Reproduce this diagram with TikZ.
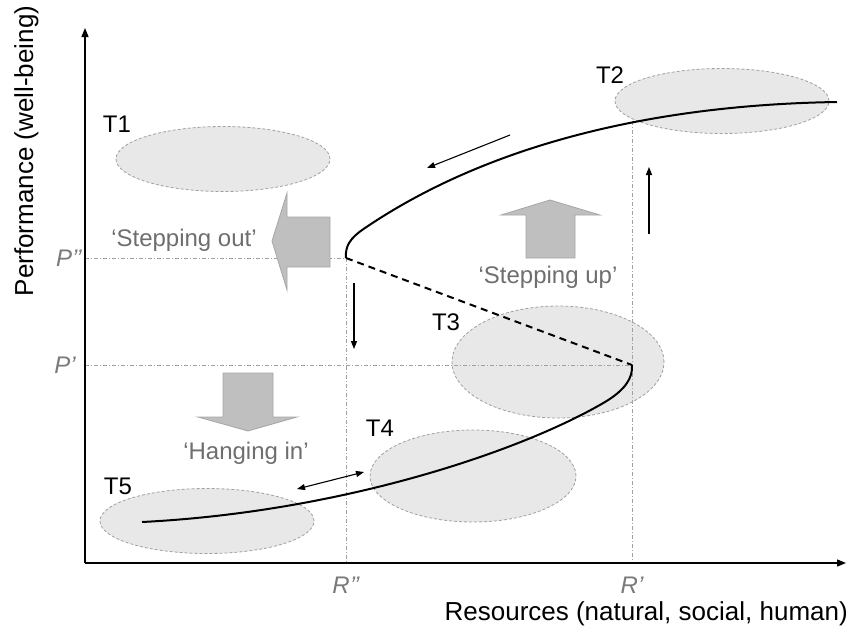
\documentclass[tikz,border=0pt]{standalone}
\usepackage{fontspec}
\setmainfont{Liberation Sans}
\usetikzlibrary{shapes.geometric,arrows.meta}
\definecolor{ellfill}{HTML}{E8E8E8}
\definecolor{elldraw}{HTML}{A0A0A0}
\definecolor{blockfill}{HTML}{BFBFBF}
\definecolor{blockdraw}{HTML}{A6A6A6}
\definecolor{labgray}{HTML}{6E6E6E}
\definecolor{vgray}{HTML}{7A7A7A}
\definecolor{guidegray}{HTML}{A0A0A0}
\begin{document}
\begin{tikzpicture}[x=1pt,y=-1pt,
  every node/.style={font=\fontsize{24}{28}\selectfont, inner sep=0pt},
  tstate/.style={ellipse, draw=elldraw, fill=ellfill, line width=0.8pt,
    dash pattern=on 3pt off 2pt, inner sep=0pt},
  tlabel/.style={text=black},
  glabel/.style={text=labgray},
  vlabel/.style={text=vgray, font=\fontsize{24}{28}\selectfont\itshape},
  axislabel/.style={text=black, font=\fontsize{26}{30}\selectfont},
  axis/.style={line width=1.3pt, -{Triangle[length=9pt,width=7pt]}},
  guide/.style={draw=guidegray, line width=0.7pt, dash pattern=on 4pt off 2pt on 1pt off 2pt},
  block/.style={fill=blockfill, draw=blockdraw, line width=0.8pt},
  curve/.style={line width=2pt},
  thinarrow/.style={line width=1.1pt, -{Triangle[length=8pt,width=6pt]}},
  dblarrow/.style={line width=1.1pt, {Triangle[length=8pt,width=6pt]}-{Triangle[length=8pt,width=6pt]}}
]
\useasboundingbox (0,0) rectangle (852,630);

% state ellipses
\node[tstate, minimum width=214pt, minimum height=65pt] (e1) at (223,159) {};
\node[tstate, minimum width=214pt, minimum height=65pt] (e2) at (722,101) {};
\node[tstate, minimum width=212pt, minimum height=112pt] (e3) at (558,362) {};
\node[tstate, minimum width=206pt, minimum height=92pt] (e4) at (473,476) {};
\node[tstate, minimum width=214pt, minimum height=65pt] (e5) at (207,521) {};

\node[tlabel] (t1) at (117,124) {T1};
\node[tlabel] (t2) at (610,75) {T2};
\node[tlabel] (t3) at (446,322) {T3};
\node[tlabel] (t4) at (380,428) {T4};
\node[tlabel] (t5) at (118,486) {T5};

% key coordinates
\coordinate (O) at (85,563);
\coordinate (ytip) at (85,28);
\coordinate (xtip) at (846,563);
\coordinate (Pdd) at (85,258);
\coordinate (A) at (346,258);
\coordinate (Pd) at (85,365);
\coordinate (B) at (632,365);
\coordinate (Rdd) at (346,563);
\coordinate (Rd) at (632,563);
\coordinate (Rdtop) at (632,121);
\coordinate (C) at (837,102);
\coordinate (E) at (142,522);

% guide lines
\draw[guide] (Pdd) -- (A);
\draw[guide] (Pd) -- (B);
\draw[guide] (A) -- (Rdd);
\draw[guide] (Rdtop) -- (Rd);

% axes
\draw[axis] (O) -- (ytip);
\draw[axis] (O) -- (xtip);

% axis value labels
\node[vlabel, anchor=east] (lPdd) at (82,258) {P’’};
\node[vlabel, anchor=east] (lPd) at (76,365) {P’};
\node[vlabel] (lRdd) at (346,585) {R’’};
\node[vlabel] (lRd) at (632,585) {R’};

% axis titles
\node[axislabel, anchor=base east] (xlab) at (848,620) {Resources (natural, social, human)};
\node[axislabel, rotate=90, anchor=base] (ylab) at (33,151) {Performance (well-being)};

% block arrows
\draw[block] (330,217) -- (287,217) -- (287,193) -- (272,241) -- (287,290) -- (287,267) -- (330,267) -- cycle;
\draw[block] (526,258) -- (526,215) -- (501,215) -- (550,200) -- (600,215) -- (575,215) -- (575,258) -- cycle;
\draw[block] (223,373) -- (273,373) -- (273,417) -- (297,417) -- (248,431) -- (198,417) -- (223,417) -- cycle;

\node[glabel] (so) at (184,240) {‘Stepping out’};
\node[glabel] (su) at (548,277) {‘Stepping up’};
\node[glabel] (hi) at (246,453) {‘Hanging in’};

% S-curve
\draw[curve] (A) .. controls (345,246) and (350,238) .. (365,228)
  .. controls (480,150) and (640,105) .. (C);
\draw[curve, dash pattern=on 7pt off 5pt] (A) -- (B);
\draw[curve] (B) .. controls (633,378) and (625,390) .. (605,402)
  .. controls (520,452) and (340,512) .. (E);

% thin arrows
\coordinate (d1s) at (354,283); \coordinate (d1e) at (354,349);
\draw[thinarrow] (d1s) -- (d1e);
\coordinate (u1s) at (649,234); \coordinate (u1e) at (649,167);
\draw[thinarrow] (u1s) -- (u1e);
\coordinate (g1s) at (510,135); \coordinate (g1e) at (427,168);
\draw[thinarrow] (g1s) -- (g1e);
\coordinate (h1s) at (297,489); \coordinate (h1e) at (364,472);
\draw[dblarrow] (h1s) -- (h1e);
\end{tikzpicture}
\end{document}
